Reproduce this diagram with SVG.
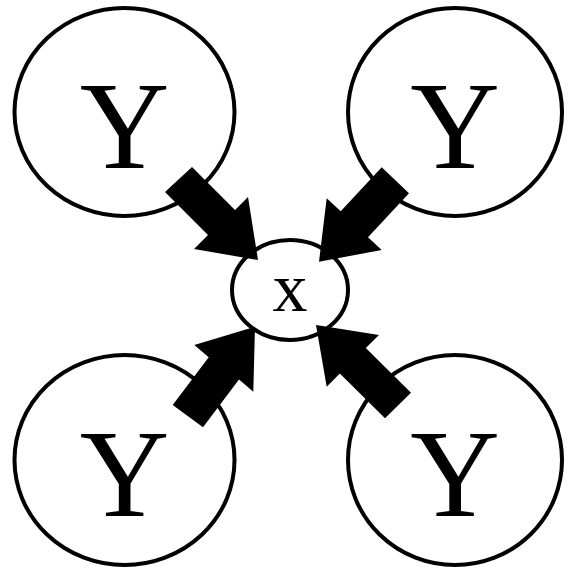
<svg xmlns="http://www.w3.org/2000/svg" width="576" height="574" viewBox="0 0 576 574">
<style>
.n{fill:#fff;stroke:#000;stroke-width:4}
.t{font-family:"Liberation Serif","Times New Roman",serif;fill:#000;text-anchor:middle}
.a{fill:#000;stroke:none}
</style>
<rect width="576" height="574" fill="#fff"/>
<g id="y1"><ellipse class="n" cx="124.5" cy="112" rx="110" ry="104"/><text class="t" x="124.5" y="168" font-size="124">Y</text></g>
<g id="y2"><ellipse class="n" cx="455" cy="112" rx="107" ry="104"/><text class="t" x="455" y="168" font-size="124">Y</text></g>
<g id="y3"><ellipse class="n" cx="124.5" cy="460" rx="110" ry="105"/><text class="t" x="124.5" y="516" font-size="124">Y</text></g>
<g id="y4"><ellipse class="n" cx="455" cy="460" rx="107" ry="105"/><text class="t" x="455" y="516" font-size="124">Y</text></g>
<g id="x"><ellipse class="n" cx="290" cy="290" rx="58" ry="50"/><text class="t" x="290" y="311" font-size="70">x</text></g>
<g id="edges">
<polygon class="a" points="192,167 235,210 248,197 258,260 194,249 208,235 165,192"/>
<polygon class="a" points="381.7,167.3 340.7,211.3 326.7,198.3 319,261.7 381.7,250 368,237.3 409,193.3"/>
<polygon class="a" points="172.7,405 208.7,357.3 194.3,345 255,326.7 253.3,391.7 239,379.6 203,427.3"/>
<polygon class="a" points="411,392.7 365.8,348 379,335 316,325 326.7,386.7 339.8,373.6 385,418.3"/>
</g>
</svg>
